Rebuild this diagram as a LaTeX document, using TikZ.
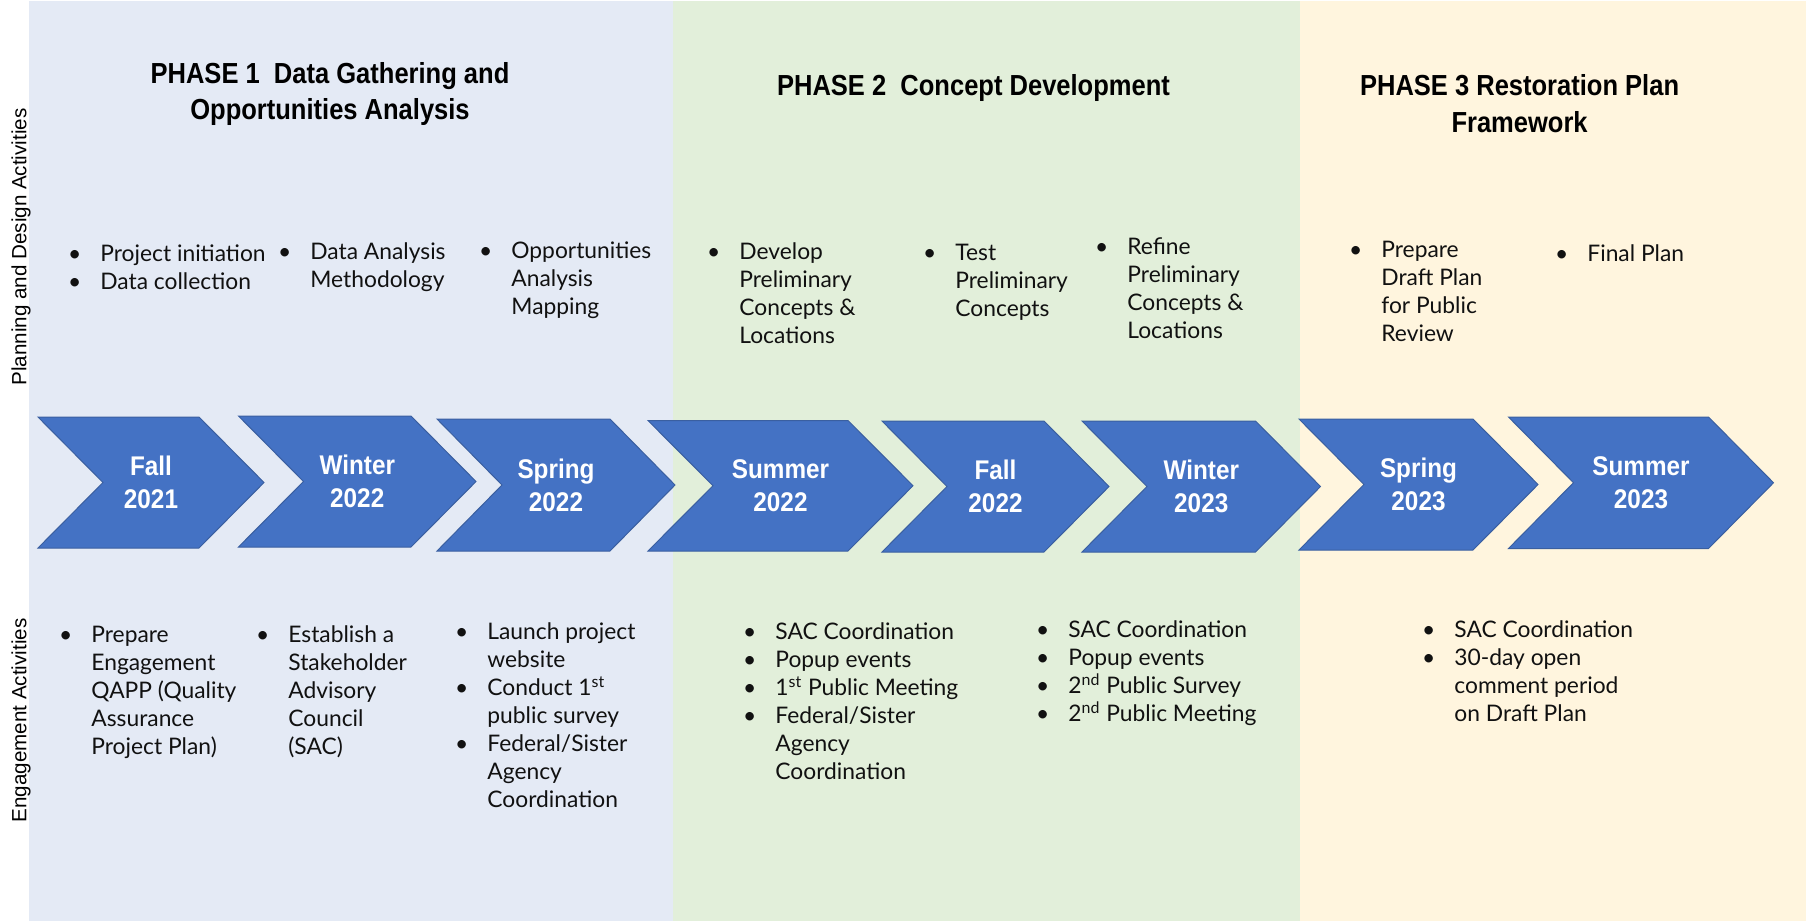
\documentclass[tikz,border=0pt]{standalone}
\usepackage{fontspec}
\setmainfont{Lato}
\newfontfamily\arialf{Liberation Sans}
\newfontfamily\headf[FakeStretch=0.88]{Liberation Sans}
\newfontfamily\seasonf[FakeStretch=0.9]{Liberation Sans}
\definecolor{pone}{HTML}{E4EAF5}
\definecolor{ptwo}{HTML}{E2EFDA}
\definecolor{pthree}{HTML}{FFF5DE}
\definecolor{chev}{HTML}{4472C4}
\definecolor{chevline}{HTML}{3A5FA0}
\definecolor{ink}{HTML}{111111}
\newcommand{\lns}[1]{\begin{tabular}[t]{@{}l@{}}#1\end{tabular}}
\newcommand{\clns}[1]{\begin{tabular}[t]{@{}c@{}}#1\end{tabular}}
\newcommand{\bu}{\llap{\textbullet\hspace{9.5pt}}}
\tikzset{
  chevron/.style={fill=chev, draw=chevline, line width=0.5pt, line join=miter},
  season/.style={text=white, font=\seasonf\bfseries\fontsize{13.5}{16.5}\selectfont, inner sep=0, anchor=base},
  body/.style={text=ink, font=\fontsize{11.4}{14}\selectfont, inner sep=0, anchor=base west},
  phasetitle/.style={text=black, font=\headf\bfseries\fontsize{14.5}{18.3}\selectfont, inner sep=0, anchor=base},
  vlabel/.style={text=black, font=\arialf\fontsize{10.3}{12}\selectfont, inner sep=0, rotate=90}
}
% name, xleft, ytop, xtip, ybottom, label
\newcommand{\chev}[6]{%
  \path[chevron] (#2,#3) -- ({#4-65},#3) -- (#4,{(#3+#5)/2}) -- ({#4-65},#5) -- (#2,#5) -- ({#2+65},{(#3+#5)/2}) -- cycle;
  \node[season] (#1) at ({(#2+#4)/2},{(#3+#5)/2-7}) {\clns{#6}};
}
\begin{document}
\begin{tikzpicture}[x=0.5pt,y=-0.5pt]
\useasboundingbox (0,0) rectangle (1806,922);
\fill[white] (0,0) rectangle (1806,922);
% phase panels
\fill[pone] (29,1) rectangle (673.3,921);
\fill[ptwo] (673.3,1) rectangle (1300,921);
\fill[pthree] (1300,1) rectangle (1806,921);

% side labels
\node[vlabel] (plan) at (21,247) {Planning and Design Activities};
\node[vlabel] (engage) at (21,720.5) {Engagement Activities};

% phase titles
\node[phasetitle] (ph1) at (330,83.3) {\clns{PHASE 1\ \ Data Gathering and\\Opportunities Analysis}};
\node[phasetitle] (ph2) at (973.5,95.5) {\clns{PHASE 2\ \ Concept Development}};
\node[phasetitle] (ph3) at (1519.6,95.5) {\clns{PHASE 3 Restoration Plan\\Framework}};

% planning activities
\node[body] (pa) at (100,261) {\lns{\bu Project initiation\\ \bu Data collection}};
\node[body] (pb) at (310,259) {\lns{\bu Data Analysis\\Methodology}};
\node[body] (pc) at (511,258) {\lns{\bu Opportunities\\Analysis\\Mapping}};
\node[body] (pd) at (739,259) {\lns{\bu Develop\\Preliminary\\Concepts \&\\Locations}};
\node[body] (pe) at (955,260) {\lns{\bu Test\\Preliminary\\Concepts}};
\node[body] (pf) at (1127,254) {\lns{\bu Refine\\Preliminary\\Concepts \&\\Locations}};
\node[body] (pg) at (1381,257) {\lns{\bu Prepare\\Draft Plan\\for Public\\Review}};
\node[body] (ph) at (1587,261) {\lns{\bu Final Plan}};

% timeline chevrons
\chev{c1}{38}{417}{264}{548}{Fall\\2021}
\chev{c2}{238.5}{416}{476}{547}{Winter\\2022}
\chev{c3}{437}{419}{675}{551}{Spring\\2022}
\chev{c4}{648}{420.5}{913}{551}{Summer\\2022}
\chev{c5}{882}{421}{1109}{552}{Fall\\2022}
\chev{c6}{1082}{421}{1320.5}{552}{Winter\\2023}
\chev{c7}{1299}{419}{1538}{550}{Spring\\2023}
\chev{c8}{1508.5}{417}{1773.5}{548.5}{Summer\\2023}

% engagement activities
\node[body] (ea) at (91,642) {\lns{\bu Prepare\\Engagement\\QAPP (Quality\\Assurance\\Project Plan)}};
\node[body] (eb) at (288,642) {\lns{\bu Establish a\\Stakeholder\\Advisory\\Council\\(SAC)}};
\node[body] (ec) at (487,639) {\lns{\bu Launch project\\website\\ \bu Conduct 1\textsuperscript{st}\\public survey\\ \bu Federal/Sister\\Agency\\Coordination}};
\node[body] (ed) at (775,639) {\lns{\bu SAC Coordination\\ \bu Popup events\\ \bu 1\textsuperscript{st} Public Meeting\\ \bu Federal/Sister\\Agency\\Coordination}};
\node[body] (ee) at (1068,637) {\lns{\bu SAC Coordination\\ \bu Popup events\\ \bu 2\textsuperscript{nd} Public Survey\\ \bu 2\textsuperscript{nd} Public Meeting}};
\node[body] (ef) at (1454,637) {\lns{\bu SAC Coordination\\ \bu 30-day open\\comment period\\on Draft Plan}};
\end{tikzpicture}
\end{document}
